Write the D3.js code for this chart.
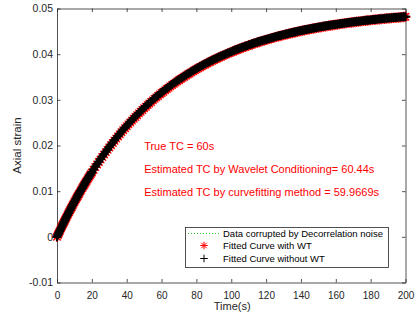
<!DOCTYPE html>
<html>
<head>
<meta charset="utf-8">
<script src="https://cdn.jsdelivr.net/npm/d3@7"></script>
<style>
  html, body { margin: 0; padding: 0; background: #fff; }
  svg { display: block; font-family: "Liberation Sans", Arial, sans-serif; }
</style>
</head>
<body>
<svg id="chart" width="418" height="325"></svg>
<script>
// Sample times of the measured data (s)
const timeData = [
  0,1,2,3,4,5,6,7,8,9,10,11,12,13,14,15,16,17,18,19,20,21,22,23,24,25,26,27,28,29,30,
  31,32,33,34,35,36,37,38,39,40,41,42,43,44,45,46,47,48,49,50,51,52,53,54,55,56,57,58,59,60,
  62,64,66,68,70,72,74,76,78,80,82,84,86,88,90,92,94,96,98,100,
  102,104,106,108,110,112,114,116,118,120,122,124,126,128,130,132,134,136,138,140,
  142,144,146,148,150,152,154,156,158,160,162,164,166,168,170,172,174,176,178,180,
  182,184,186,188,190,192,194,196,198,200
];

// Measured axial strain (decorrelation-noise corrupted data)
const strainData = [
  0,0.00083,0.00164,0.00244,0.00322,0.00400,0.00476,0.00551,0.00624,0.00696,0.00768,
  0.00838,0.00906,0.00974,0.01041,0.01106,0.01170,0.01234,0.01296,0.01357,0.01417,
  0.01477,0.01535,0.01592,0.01648,0.01704,0.01758,0.01812,0.01865,0.01916,0.01967,
  0.02018,0.02067,0.02115,0.02163,0.02210,0.02256,0.02301,0.02346,0.02390,0.02433,
  0.02475,0.02517,0.02558,0.02599,0.02638,0.02677,0.02716,0.02753,0.02790,0.02827,
  0.02863,0.02898,0.02933,0.02967,0.03001,0.03034,0.03066,0.03098,0.03130,0.03161,
  0.03221,0.03279,0.03336,0.03390,0.03443,0.03494,0.03543,0.03591,0.03637,0.03682,
  0.03725,0.03767,0.03807,0.03847,0.03884,0.03921,0.03956,0.03991,0.04024,0.04056,
  0.04087,0.04117,0.04146,0.04174,0.04201,0.04227,0.04252,0.04277,0.04300,0.04323,
  0.04345,0.04367,0.04388,0.04408,0.04427,0.04446,0.04464,0.04482,0.04499,0.04515,
  0.04531,0.04546,0.04561,0.04576,0.04590,0.04603,0.04616,0.04629,0.04641,0.04653,
  0.04664,0.04675,0.04686,0.04696,0.04706,0.04716,0.04725,0.04734,0.04743,0.04751,
  0.04759,0.04767,0.04775,0.04782,0.04789,0.04796,0.04803,0.04809,0.04816,0.04822
];

// Times at which both fitted curves are evaluated (s)
const timeFit = [
  0,0.5,1,1.5,2,2.5,3,3.5,4,4.5,5,5.5,6,6.5,7,7.5,8,8.5,9,9.5,
  10,10.5,11,11.5,12,12.5,13,13.5,14,14.5,15,15.5,16,16.5,17,17.5,18,18.5,19,19.5,20,
  21,22,23,24,25,26,27,28,29,30,31,32,33,34,35,36,37,38,39,40,
  41,42,43,44,45,46,47,48,49,50,51,52,53,54,55,56,57,58,59,60,
  61,62,63,64,65,66,67,68,69,70,71,72,73,74,75,76,77,78,79,80,
  81,82,83,84,85,86,87,88,89,90,91,92,93,94,95,96,97,98,99,100,
  101,102,103,104,105,106,107,108,109,110,111,112,113,114,115,116,117,118,119,120,
  121,122,123,124,125,126,127,128,129,130,131,132,133,134,135,136,137,138,139,140,
  141,142,143,144,145,146,147,148,149,150,151,152,153,154,155,156,157,158,159,160,
  161,162,163,164,165,166,167,168,169,170,171,172,173,174,175,176,177,178,179,180,
  181,182,183,184,185,186,187,188,189,190,191,192,193,194,195,196,197,198,199,200
];

// Fitted curve with wavelet conditioning (TC = 60.44 s)
const strainWT = [
  0,0.00041,0.00082,0.00122,0.00163,0.00203,0.00242,0.00281,0.00320,0.00358,
  0.00397,0.00435,0.00473,0.00509,0.00547,0.00584,0.00620,0.00655,0.00691,0.00727,
  0.00763,0.00798,0.00832,0.00866,0.00900,0.00934,0.00968,0.01000,0.01034,0.01066,
  0.01099,0.01131,0.01163,0.01194,0.01226,0.01257,0.01288,0.01319,0.01349,0.01378,0.01408,
  0.01468,0.01526,0.01582,0.01638,0.01694,0.01748,0.01801,0.01854,0.01905,0.01956,
  0.02007,0.02056,0.02103,0.02151,0.02198,0.02244,0.02289,0.02334,0.02378,0.02420,
  0.02462,0.02504,0.02545,0.02586,0.02625,0.02664,0.02703,0.02740,0.02777,0.02814,
  0.02850,0.02885,0.02920,0.02954,0.02988,0.03021,0.03053,0.03085,0.03117,0.03148,
  0.03178,0.03208,0.03237,0.03266,0.03295,0.03323,0.03350,0.03377,0.03404,0.03430,
  0.03456,0.03481,0.03506,0.03530,0.03554,0.03578,0.03601,0.03624,0.03647,0.03669,
  0.03691,0.03712,0.03733,0.03754,0.03774,0.03794,0.03815,0.03835,0.03854,0.03872,
  0.03891,0.03909,0.03927,0.03944,0.03962,0.03979,0.03995,0.04012,0.04028,0.04044,
  0.04060,0.04076,0.04091,0.04106,0.04120,0.04135,0.04149,0.04163,0.04176,0.04190,
  0.04203,0.04216,0.04230,0.04242,0.04255,0.04267,0.04279,0.04290,0.04302,0.04313,
  0.04325,0.04335,0.04346,0.04357,0.04367,0.04379,0.04389,0.04399,0.04409,0.04418,
  0.04428,0.04437,0.04446,0.04455,0.04464,0.04473,0.04481,0.04491,0.04499,0.04507,
  0.04515,0.04523,0.04531,0.04538,0.04546,0.04553,0.04561,0.04568,0.04575,0.04582,
  0.04589,0.04596,0.04603,0.04609,0.04615,0.04622,0.04628,0.04634,0.04640,0.04646,
  0.04651,0.04657,0.04663,0.04668,0.04674,0.04680,0.04685,0.04690,0.04695,0.04700,
  0.04705,0.04710,0.04714,0.04719,0.04723,0.04728,0.04732,0.04737,0.04741,0.04746,
  0.04750,0.04754,0.04758,0.04762,0.04766,0.04770,0.04773,0.04777,0.04781,0.04784,
  0.04788,0.04791,0.04795,0.04798,0.04801,0.04804,0.04807,0.04812,0.04815,0.04818
];

// Fitted curve without wavelet conditioning (TC = 59.9669 s)
const strainNoWT = [
  0,0.00041,0.00083,0.00123,0.00164,0.00204,0.00244,0.00283,0.00322,0.00361,
  0.00400,0.00438,0.00476,0.00513,0.00551,0.00588,0.00624,0.00660,0.00696,0.00732,
  0.00768,0.00803,0.00838,0.00872,0.00906,0.00940,0.00974,0.01007,0.01042,0.01074,
  0.01107,0.01139,0.01171,0.01203,0.01235,0.01266,0.01297,0.01328,0.01358,0.01388,0.01418,
  0.01478,0.01536,0.01593,0.01649,0.01705,0.01759,0.01813,0.01866,0.01917,0.01968,
  0.02019,0.02068,0.02116,0.02164,0.02211,0.02257,0.02302,0.02347,0.02391,0.02434,
  0.02476,0.02518,0.02559,0.02600,0.02639,0.02678,0.02717,0.02754,0.02791,0.02828,
  0.02864,0.02899,0.02934,0.02968,0.03002,0.03035,0.03067,0.03099,0.03131,0.03162,
  0.03192,0.03222,0.03251,0.03280,0.03309,0.03337,0.03364,0.03391,0.03418,0.03444,
  0.03470,0.03495,0.03520,0.03544,0.03568,0.03592,0.03615,0.03638,0.03661,0.03683,
  0.03705,0.03726,0.03747,0.03768,0.03788,0.03808,0.03828,0.03848,0.03867,0.03885,
  0.03904,0.03922,0.03940,0.03957,0.03975,0.03992,0.04008,0.04025,0.04041,0.04057,
  0.04072,0.04088,0.04103,0.04118,0.04132,0.04147,0.04161,0.04175,0.04188,0.04202,
  0.04215,0.04228,0.04241,0.04253,0.04266,0.04278,0.04290,0.04301,0.04313,0.04324,
  0.04336,0.04346,0.04357,0.04368,0.04378,0.04389,0.04399,0.04409,0.04419,0.04428,
  0.04438,0.04447,0.04456,0.04465,0.04474,0.04483,0.04491,0.04500,0.04508,0.04516,
  0.04524,0.04532,0.04540,0.04547,0.04555,0.04562,0.04570,0.04577,0.04584,0.04591,
  0.04597,0.04604,0.04611,0.04617,0.04623,0.04630,0.04636,0.04642,0.04648,0.04654,
  0.04659,0.04665,0.04670,0.04675,0.04680,0.04686,0.04691,0.04696,0.04701,0.04706,
  0.04711,0.04716,0.04720,0.04725,0.04729,0.04734,0.04738,0.04743,0.04747,0.04751,
  0.04755,0.04759,0.04763,0.04767,0.04771,0.04775,0.04778,0.04782,0.04786,0.04789,
  0.04793,0.04796,0.04800,0.04803,0.04806,0.04809,0.04812,0.04816,0.04819,0.04822
];

const xTicks = [0, 20, 40, 60, 80, 100, 120, 140, 160, 180, 200];
const yTicks = [-0.01, 0, 0.01, 0.02, 0.03, 0.04, 0.05];
const yTickLabels = ["-0.01", "0", "0.01", "0.02", "0.03", "0.04", "0.05"];

const seriesNames = [
  "Data corrupted by Decorrelation noise",
  "Fitted Curve with WT",
  "Fitted Curve without WT"
];

// Annotation text and its anchor in data units (time, strain)
const noteText = [
  "True TC = 60s",
  "Estimated TC by Wavelet Conditioning= 60.44s",
  "Estimated TC by curvefitting method = 59.9669s"
];
const noteX = [50, 50, 50];
const noteY = [0.02, 0.015, 0.01];

const axisColor = "#262626";
const svg = d3.select("#chart");

const plot = { left: 57, right: 405.5, top: 8.5, bottom: 282.5 };

const x = d3.scaleLinear().domain([0, 200]).range([plot.left, plot.right]);
const y = d3.scaleLinear().domain([-0.01, 0.05]).range([plot.bottom, plot.top]);

const tickLen = 3.5;

function styleAxis(g, showText, size) {
  g.selectAll("path.domain").attr("stroke", axisColor).attr("stroke-width", 0.8);
  g.selectAll(".tick line").attr("stroke", axisColor).attr("stroke-width", 0.8);
  g.selectAll(".tick text")
    .attr("fill", axisColor)
    .style("font-size", size || "10.5px")
    .style("display", showText ? null : "none");
}

// Bottom / top axes
svg.append("g")
  .attr("transform", `translate(0,${plot.bottom})`)
  .call(d3.axisBottom(x).tickValues(xTicks).tickSizeInner(-tickLen).tickSizeOuter(0).tickPadding(9))
  .call(g => styleAxis(g, true, "10px"));
svg.append("g")
  .attr("transform", `translate(0,${plot.top})`)
  .call(d3.axisTop(x).tickValues(xTicks).tickSizeInner(-tickLen).tickSizeOuter(0))
  .call(g => styleAxis(g, false));

// Left / right axes
svg.append("g")
  .attr("transform", `translate(${plot.left},0)`)
  .call(d3.axisLeft(y).tickValues(yTicks).tickFormat((d, i) => yTickLabels[i])
        .tickSizeInner(-tickLen).tickSizeOuter(0).tickPadding(4))
  .call(g => styleAxis(g, true));
svg.append("g")
  .attr("transform", `translate(${plot.right},0)`)
  .call(d3.axisRight(y).tickValues(yTicks).tickSizeInner(-tickLen).tickSizeOuter(0))
  .call(g => styleAxis(g, false));

// Axis titles
svg.append("text")
  .attr("x", (plot.left + plot.right) / 2 + 1).attr("y", 310)
  .attr("text-anchor", "middle")
  .attr("fill", axisColor).style("font-size", "11px")
  .text("Time(s)");
svg.append("text")
  .attr("transform", `translate(21,${(plot.top + plot.bottom) / 2}) rotate(-90)`)
  .attr("text-anchor", "middle")
  .attr("fill", axisColor).style("font-size", "11.5px")
  .text("Axial strain");

// Marker shapes
const plusPath = s => `M${-s},0H${s}M0,${-s}V${s}`;
const starPath = s => {
  const d = s * 0.72;
  return `M${-s},0H${s}M0,${-s}V${s}M${-d},${-d}L${d},${d}M${-d},${d}L${d},${-d}`;
};

const pairs = (ts, vals) => ts.map((t, i) => [t, vals[i]]);

const marks = svg.append("g");

// Data line (green dotted)
marks.append("path")
  .datum(pairs(timeData, strainData))
  .attr("fill", "none")
  .attr("stroke", "#00cc00")
  .attr("stroke-width", 1)
  .attr("stroke-dasharray", "1,2")
  .attr("d", d3.line().x(d => x(d[0])).y(d => y(d[1])));

// Fitted with WT: red asterisks
marks.append("g").selectAll("path")
  .data(pairs(timeFit, strainWT))
  .join("path")
  .attr("transform", d => `translate(${x(d[0])},${y(d[1])})`)
  .attr("d", starPath(5.2))
  .attr("fill", "none")
  .attr("stroke", "#ff0000")
  .attr("stroke-width", 1.3);

// Fitted without WT: black plus signs
marks.append("g").selectAll("path")
  .data(pairs(timeFit, strainNoWT))
  .join("path")
  .attr("transform", d => `translate(${x(d[0])},${y(d[1])})`)
  .attr("d", plusPath(4.4))
  .attr("fill", "none")
  .attr("stroke", "#000")
  .attr("stroke-width", 2.2);

// Annotations
svg.append("g").selectAll("text")
  .data(noteText)
  .join("text")
  .attr("x", (d, i) => x(noteX[i]))
  .attr("y", (d, i) => y(noteY[i]) + 4.5)
  .attr("fill", "#ff0000")
  .style("font-size", "11px")
  .text(d => d);

// Legend
const lg = svg.append("g").attr("transform", "translate(185,227)");
lg.append("rect")
  .attr("x", 0.5).attr("y", 0.5).attr("width", 203).attr("height", 40)
  .attr("fill", "#fff").attr("stroke", axisColor).attr("stroke-width", 0.8);

const rowY = [6.5, 18.5, 31.5];
lg.append("line")
  .attr("x1", 3).attr("x2", 35).attr("y1", rowY[0]).attr("y2", rowY[0])
  .attr("stroke", "#22cc22").attr("stroke-width", 1).attr("stroke-dasharray", "1,2");
lg.append("path")
  .attr("transform", `translate(19,${rowY[1]})`)
  .attr("d", starPath(3.8)).attr("fill", "none").attr("stroke", "#ff0000").attr("stroke-width", 1);
lg.append("path")
  .attr("transform", `translate(19,${rowY[2]})`)
  .attr("d", plusPath(3.8)).attr("fill", "none").attr("stroke", "#000").attr("stroke-width", 1);

lg.selectAll("text.lab")
  .data(seriesNames)
  .join("text")
  .attr("class", "lab")
  .attr("x", 38)
  .attr("y", (d, i) => rowY[i] + 3.4)
  .attr("fill", "#000")
  .style("font-size", "9.5px")
  .text(d => d);
</script>
</body>
</html>
